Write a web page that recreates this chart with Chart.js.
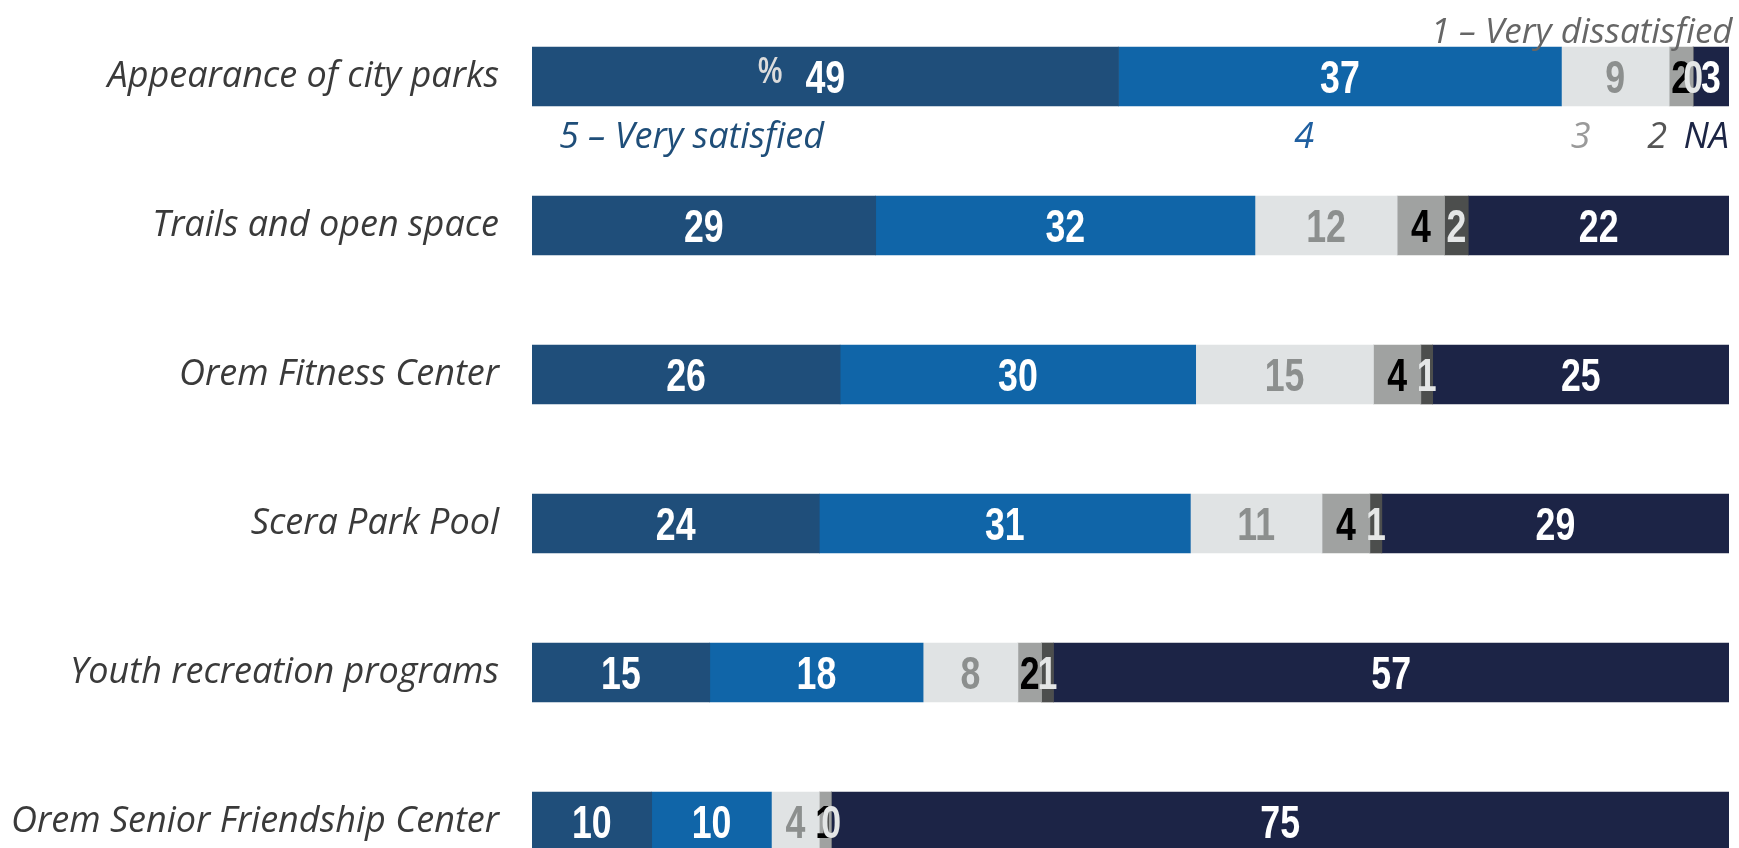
<!DOCTYPE html>
<html>
<head>
<meta charset="utf-8">
<title>Satisfaction with parks and recreation</title>
<script src="https://cdn.jsdelivr.net/npm/chart.js@4.4.1/dist/chart.umd.min.js"></script>
<style>
    html, body { margin: 0; padding: 0; background: #fff; overflow: hidden; }
    #wrap { width: 1739px; height: 900px; }
</style>
</head>
<body>
<div id="wrap"><canvas id="myChart" width="1739" height="900"></canvas></div>
<script>
// Categories (top to bottom)
const categories = [
    'Appearance of city parks',
    'Trails and open space',
    'Orem Fitness Center',
    'Scera Park Pool',
    'Youth recreation programs',
    'Orem Senior Friendship Center'
];

// Series, in stacking order (left to right)
const seriesNames = ['5 – Very satisfied', '4', '3', '2', '1 – Very dissatisfied', 'NA'];
const verySatisfied    = [49, 29, 26, 24, 15, 10];
const satisfied        = [37, 32, 30, 31, 18, 10];
const neutral          = [9, 12, 15, 11, 8, 4];
const dissatisfied     = [2, 4, 4, 4, 2, 1];
const veryDissatisfied = [0, 2, 1, 1, 1, 0];
const notApplicable    = [3, 22, 25, 29, 57, 75];

(() => {
    'use strict';

    const ctx = document.getElementById('myChart');

    const series = [verySatisfied, satisfied, neutral, dissatisfied, veryDissatisfied, notApplicable];
    const barColors   = ['#1f4e7a', '#1065a8', '#e0e3e4', '#a0a2a1', '#4c4e4d', '#1c2446'];
    const labelColors = ['#ffffff', '#ffffff', '#8c8f8e', '#000000', '#e4e6e6', '#ffffff'];
    const legendColors = ['#1f4e79', '#1f5fa0', '#9a9a9a', '#555555', '#666666', '#1c2545'];

    // rounded values don't always add to 100, so each bar is scaled to full width
    const rowTotals = categories.map((c, i) => series.reduce((s, arr) => s + arr[i], 0));

    const italicFamily = '"Open Sans", Lato, sans-serif';
    const italicFont = 'italic 36px ' + italicFamily;

    // no condensed bold font installed, so squeeze a normal one
    const squeeze = 0.76;
    function condensedText(c, text, x, y, font) {
        c.save();
        c.font = font;
        c.translate(x, y);
        c.scale(squeeze, 1);
        c.fillText(text, 0, 0);
        c.restore();
    }

    // numbers printed in the middle of each segment
    const segmentLabels = {
        id: 'segmentLabels',
        afterDatasetsDraw(chart) {
            const c = chart.ctx;
            c.save();
            c.textAlign = 'center';
            c.textBaseline = 'alphabetic';
            chart.data.datasets.forEach((ds, di) => {
                const meta = chart.getDatasetMeta(di);
                meta.data.forEach((bar, i) => {
                    const cx = (bar.x + bar.base) / 2;
                    c.fillStyle = labelColors[di];
                    condensedText(c, String(series[di][i]), cx, bar.y + 16,
                        'bold 47px "Liberation Sans", Arial, sans-serif');
                    if (di === 0 && i === 0) {
                        c.fillStyle = '#dcdcdc';
                        condensedText(c, '%', cx - 55, bar.y + 6,
                            'bold 36px "Liberation Sans", Arial, sans-serif');
                    }
                });
            });
            c.restore();
        }
    };

    // series names written around the first bar instead of a legend
    const legendNotes = [
        { series: 0, at: 2.25, align: 'left', below: true },
        { series: 1, at: 64.5, align: 'center', below: true },
        { series: 2, at: 87.6, align: 'center', below: true },
        { series: 3, at: 94.0, align: 'center', below: true },
        { series: 4, at: 100.3, align: 'right', below: false },
        { series: 5, at: 100, align: 'right', below: true }
    ];

    const barNotes = {
        id: 'barNotes',
        afterDatasetsDraw(chart) {
            const c = chart.ctx;
            const x = chart.scales.x;
            const y = chart.scales.y;
            const yc = y.getPixelForValue(0);
            c.save();
            c.textBaseline = 'alphabetic';
            legendNotes.forEach(n => {
                c.font = n.below ? italicFont : 'italic 35px ' + italicFamily;
                c.fillStyle = legendColors[n.series];
                c.textAlign = n.align;
                const ty = n.below ? yc + 29.5 + 42 : yc - 29.5 - 4;
                c.fillText(seriesNames[n.series], x.getPixelForValue(n.at), ty);
            });
            c.restore();
        }
    };

    new Chart(ctx, {
        type: 'bar',
        data: {
            labels: categories,
            datasets: series.map((arr, di) => ({
                label: seriesNames[di],
                data: arr.map((v, i) => v / rowTotals[i] * 100),
                backgroundColor: barColors[di],
                borderWidth: 0,
                barThickness: 59
            }))
        },
        options: {
            indexAxis: 'y',
            responsive: false,
            animation: false,
            layout: {
                padding: { top: 2, right: 10, bottom: 4, left: 0 }
            },
            scales: {
                x: {
                    stacked: true,
                    min: 0,
                    max: 100,
                    display: false
                },
                y: {
                    stacked: true,
                    grid: { display: false },
                    border: { display: false },
                    ticks: {
                        padding: 25,
                        color: '#3a3a3a',
                        font: { family: italicFamily, size: 36, style: 'italic' }
                    },
                    afterFit(scale) {
                        scale.width = 532;
                        // tick padding would otherwise shrink the plot vertically
                        scale.paddingTop = 0;
                        scale.paddingBottom = 0;
                    }
                }
            },
            plugins: {
                legend: { display: false },
                tooltip: { enabled: false }
            }
        },
        plugins: [segmentLabels, barNotes]
    });
})();
</script>
</body>
</html>
